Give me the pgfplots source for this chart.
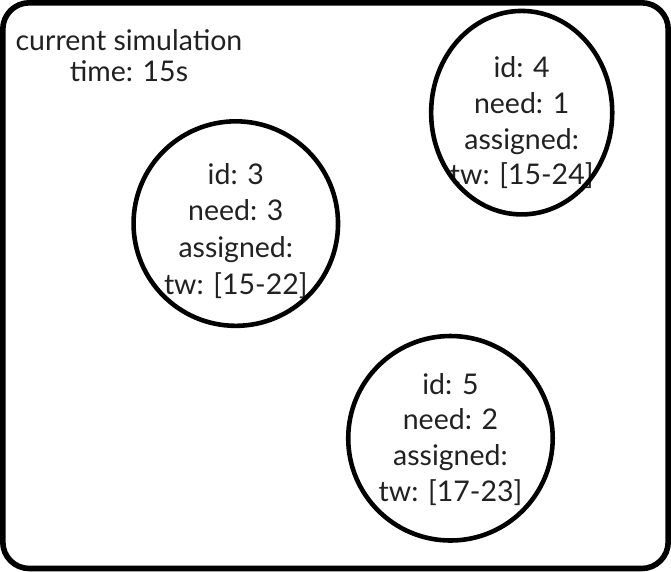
\documentclass[border=0pt]{standalone}
\usepackage{fontspec}
\setmainfont{Lato}
\usepackage{pgfplots}
\pgfplotsset{compat=1.18}

\begin{document}
\begin{tikzpicture}
\begin{axis}[
  width=671pt, height=572pt, scale only axis,
  xmin=0, xmax=671, ymin=0, ymax=572, y dir=reverse,
  hide axis, clip=false,
]
% outer frame
\addplot[black, line width=5.5pt, rounded corners=26pt] coordinates {
  (300,10) (666,10) (666,566) (12,566) (12,10) (300,10) (320,10)};
% round nodes
\addplot[only marks, mark=o, mark size=100.5pt, line width=4.5pt, black]
  coordinates {(241,227) (452,438)};
\addplot[only marks, mark=o, mark size=100pt, line width=4.5pt, black,
  mark options={xscale=0.89}]
  coordinates {(522,118)};
\node[align=center, font=\fontsize{28}{31}\selectfont, text=black!87]
  at (axis cs:136,62) {current simulation\\time: 15s};
\node[align=center, font=\fontsize{28}{36}\selectfont, text=black!87]
  at (axis cs:241,234) {id: 3\\need: 3\\assigned:\\tw: [15-22]};
\node[align=center, font=\fontsize{28}{35}\selectfont, text=black!87]
  at (axis cs:522,128) {id: 4\\need: 1\\assigned:\\tw: [15-24]};
\node[align=center, font=\fontsize{28}{35}\selectfont, text=black!87]
  at (axis cs:452,439) {id: 5\\need: 2\\assigned:\\tw: [17-23]};
\end{axis}
\end{tikzpicture}
\end{document}
